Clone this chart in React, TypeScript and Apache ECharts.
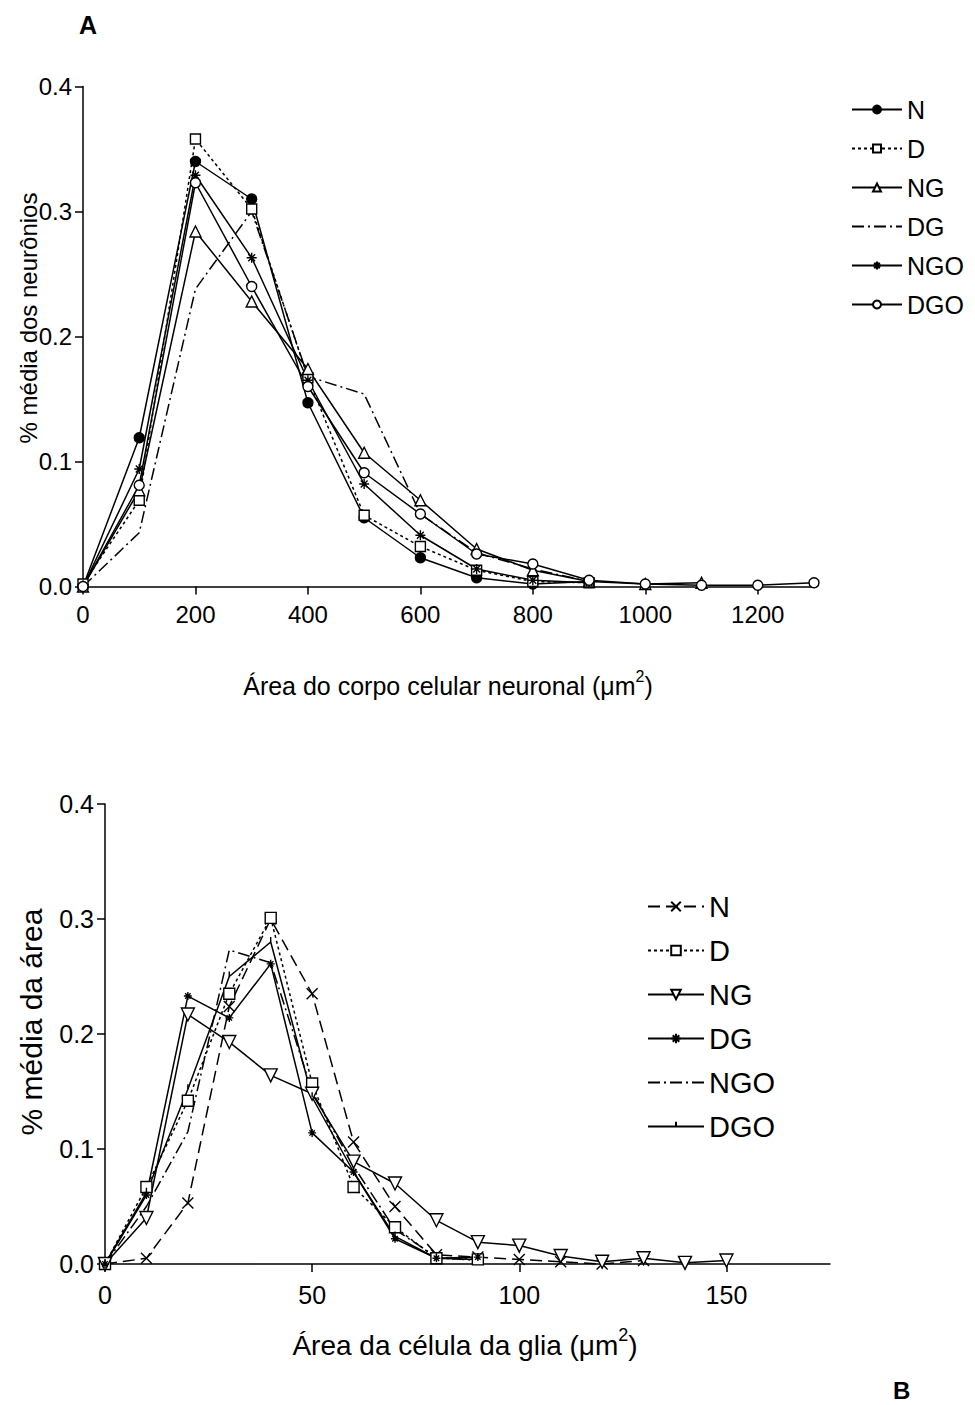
import React, { useEffect, useRef } from 'react';
import * as echarts from 'echarts';

const FONT = '"Liberation Sans", Arial, Helvetica, sans-serif';

// ---------- Panel A data ----------
const X_TOP = [0, 100, 200, 300, 400, 500, 600, 700, 800, 900, 1000, 1100, 1200, 1300];
const TOP_N = [0, 0.119, 0.34, 0.31, 0.147, 0.055, 0.023, 0.007, 0.002, 0.004];
const TOP_D = [0.002, 0.069, 0.358, 0.302, 0.167, 0.057, 0.032, 0.013, 0.004, 0.003];
const TOP_NG = [0, 0.077, 0.284, 0.228, 0.174, 0.107, 0.069, 0.03, 0.013, 0.004, 0.002, 0.003];
const TOP_DG = [0, 0.043, 0.238, 0.3, 0.168, 0.154, 0.058, 0.027, 0.014, 0.004];
const TOP_NGO = [0, 0.094, 0.329, 0.263, 0.165, 0.082, 0.041, 0.014, 0.005, 0.003];
const TOP_DGO = [0, 0.081, 0.323, 0.24, 0.16, 0.091, 0.058, 0.026, 0.018, 0.005, 0.002, 0.001, 0.001, 0.003];
const TOP_X_TICKS = [0, 200, 400, 600, 800, 1000, 1200];

// ---------- Panel B data ----------
const X_BOT = [0, 10, 20, 30, 40, 50, 60, 70, 80, 90, 100, 110, 120, 130, 140, 150];
const BOT_N = [0, 0.005, 0.053, 0.224, 0.3, 0.235, 0.106, 0.05, 0.008, 0.006, 0.004, 0.002, 0, 0.003];
const BOT_D = [0, 0.067, 0.142, 0.235, 0.301, 0.157, 0.067, 0.032, 0.005, 0.004];
const BOT_NG = [0, 0.04, 0.217, 0.193, 0.164, 0.148, 0.089, 0.07, 0.038, 0.019, 0.016, 0.007, 0.002, 0.005, 0.001, 0.003];
const BOT_DG = [0, 0.06, 0.233, 0.214, 0.261, 0.114, 0.08, 0.022, 0.005, 0.006];
const BOT_NGO = [0, 0.05, 0.115, 0.273, 0.262, 0.15, 0.085, 0.03, 0.006, 0.003];
const BOT_DGO = [0, 0.062, 0.152, 0.25, 0.28, 0.145, 0.08, 0.024, 0.005, 0.004];
const BOT_X_TICKS = [0, 50, 100, 150];

const LEGEND_NAMES = ['N', 'D', 'NG', 'DG', 'NGO', 'DGO'];

// ---------- symbols ----------
const ASTERISK = 'path://M5,0L5,10M0,5L10,5M1.6,1.6L8.4,8.4M8.4,1.6L1.6,8.4';
const CROSS = 'path://M0,0L10,10M10,0L0,10';
const DOWN_TRI = 'path://M0,0L10,0L5,8.66Z';
const TICK = 'path://M0,10L0.01,10M5,0L5,5M10,10L10.01,10';

type SOpt = {
  symbol: string;
  size: number;
  fill: string;
  dash?: number[] | 'solid';
  noSymbol?: boolean;
};

function mkSeries(name: string, xs: number[], vals: number[], o: SOpt) {
  return {
    type: 'line',
    name,
    data: vals.map((v, i) => [xs[i], v]),
    symbol: o.symbol,
    symbolSize: o.size,
    showSymbol: !o.noSymbol,
    clip: false,
    lineStyle: { color: '#000', width: 1.5, type: o.dash || 'solid' },
    itemStyle: o.noSymbol
      ? { color: 'rgba(0,0,0,0)', borderColor: 'rgba(0,0,0,0)', borderWidth: 0 }
      : { color: o.fill, borderColor: '#000', borderWidth: 1.4 },
    emphasis: { disabled: true },
  };
}

function axisCommon() {
  return {
    axisLine: { show: true, onZero: false, lineStyle: { color: '#000', width: 1.5 } },
    splitLine: { show: false },
  };
}

function titleText(x: number, y: number, main: string, fontSize: number, supSize: number) {
  return {
    type: 'text',
    x,
    y,
    style: {
      text: `{a|${main}}{s|2}{a|)}`,
      rich: {
        a: { fontSize, fontFamily: FONT, fill: '#000', lineHeight: Math.round(fontSize * 1.4) },
        s: { fontSize: supSize, fontFamily: FONT, fill: '#000', verticalAlign: 'top', lineHeight: supSize + 2 },
      },
      align: 'center',
      verticalAlign: 'middle',
    },
  };
}

const plainNum = (v: number) => String(v);

const topOption = {
  animation: false,
  backgroundColor: '#fff',
  grid: { left: 83, top: 86.5, width: 731, height: 500, containLabel: false },
  xAxis: {
    type: 'value',
    min: 0,
    max: 1300,
    ...axisCommon(),
    axisTick: { show: true, length: 8, lineStyle: { color: '#000', width: 1.5 }, customValues: TOP_X_TICKS },
    axisLabel: { color: '#000', fontSize: 24, fontFamily: FONT, margin: 16, customValues: TOP_X_TICKS, formatter: plainNum },
  },
  yAxis: {
    type: 'value',
    min: 0,
    max: 0.4,
    interval: 0.1,
    ...axisCommon(),
    axisTick: { show: true, length: 8, lineStyle: { color: '#000', width: 1.5 } },
    axisLabel: { color: '#000', fontSize: 24, fontFamily: FONT, margin: 11, formatter: (v: number) => v.toFixed(1) },
  },
  legend: {
    orient: 'vertical',
    left: 851,
    top: 97,
    padding: 0,
    itemWidth: 50,
    itemHeight: 10,
    itemGap: 14,
    data: LEGEND_NAMES,
    selectedMode: false,
    textStyle: { fontSize: 25, fontFamily: FONT, color: '#000', lineHeight: 25 },
  },
  graphic: [
    { type: 'text', x: 79, y: 12, style: { text: 'A', fontSize: 25, fontWeight: 'bold', fontFamily: FONT, fill: '#000' } },
    {
      type: 'text',
      x: 28,
      y: 318,
      rotation: Math.PI / 2,
      style: { text: '% média dos neurônios', fontSize: 24, fontFamily: FONT, fill: '#000', align: 'center', verticalAlign: 'middle' },
    },
    titleText(448, 686, 'Área do corpo celular neuronal (μm', 25, 16),
  ],
  series: [
    mkSeries('N', X_TOP, TOP_N, { symbol: 'circle', size: 10, fill: '#000' }),
    mkSeries('D', X_TOP, TOP_D, { symbol: 'rect', size: 10, fill: '#fff', dash: [3, 3] }),
    mkSeries('NG', X_TOP, TOP_NG, { symbol: 'triangle', size: 11, fill: '#fff' }),
    mkSeries('DG', X_TOP, TOP_DG, { symbol: 'circle', size: 1, fill: '#000', dash: [12, 4, 2, 4], noSymbol: true }),
    mkSeries('NGO', X_TOP, TOP_NGO, { symbol: ASTERISK, size: 10, fill: '#000' }),
    mkSeries('DGO', X_TOP, TOP_DGO, { symbol: 'circle', size: 10, fill: '#fff' }),
  ],
};

const botOption = {
  animation: false,
  backgroundColor: '#fff',
  grid: { left: 105, top: 104, width: 725, height: 460, containLabel: false },
  xAxis: {
    type: 'value',
    min: 0,
    max: 175,
    ...axisCommon(),
    axisTick: { show: true, length: 8, lineStyle: { color: '#000', width: 1.5 }, customValues: BOT_X_TICKS },
    axisLabel: { color: '#000', fontSize: 25, fontFamily: FONT, margin: 18, customValues: BOT_X_TICKS, formatter: plainNum },
  },
  yAxis: {
    type: 'value',
    min: 0,
    max: 0.4,
    interval: 0.1,
    ...axisCommon(),
    axisTick: { show: true, length: 8, lineStyle: { color: '#000', width: 1.5 } },
    axisLabel: { color: '#000', fontSize: 25, fontFamily: FONT, margin: 11, formatter: (v: number) => v.toFixed(1) },
  },
  legend: {
    orient: 'vertical',
    left: 647,
    top: 192,
    padding: 0,
    itemWidth: 56,
    itemHeight: 12,
    itemGap: 15,
    data: LEGEND_NAMES,
    selectedMode: false,
    textStyle: { fontSize: 29, fontFamily: FONT, color: '#000', lineHeight: 29 },
  },
  graphic: [
    {
      type: 'text',
      x: 893,
      y: 690,
      style: { text: 'B', fontSize: 24, fontWeight: 'bold', fontFamily: FONT, fill: '#000', verticalAlign: 'middle' },
    },
    {
      type: 'text',
      x: 31,
      y: 322,
      rotation: Math.PI / 2,
      style: { text: '% média da área', fontSize: 30, fontFamily: FONT, fill: '#000', align: 'center', verticalAlign: 'middle' },
    },
    titleText(465, 645, 'Área da célula da glia (μm', 28, 18),
  ],
  series: [
    mkSeries('N', X_BOT, BOT_N, { symbol: CROSS, size: 11, fill: '#000', dash: [12, 6] }),
    mkSeries('D', X_BOT, BOT_D, { symbol: 'rect', size: 11, fill: '#fff', dash: [3, 3] }),
    mkSeries('NG', X_BOT, BOT_NG, { symbol: DOWN_TRI, size: 13, fill: '#fff' }),
    mkSeries('DG', X_BOT, BOT_DG, { symbol: ASTERISK, size: 8, fill: '#000' }),
    mkSeries('NGO', X_BOT, BOT_NGO, { symbol: 'circle', size: 1, fill: '#000', dash: [12, 4, 2, 4], noSymbol: true }),
    mkSeries('DGO', X_BOT, BOT_DGO, { symbol: TICK, size: 10, fill: '#000' }),
  ],
};

function Chart({ option, top, height }: { option: any; top: number; height: number }) {
  const ref = useRef<HTMLDivElement>(null);
  useEffect(() => {
    if (!ref.current) return;
    const chart = echarts.init(ref.current, undefined, { renderer: 'svg' });
    chart.setOption(option);
    return () => chart.dispose();
  }, [option]);
  return <div ref={ref} style={{ position: 'absolute', left: 0, top, width: 975, height }} />;
}

export default function App() {
  return (
    <div style={{ position: 'absolute', left: 0, top: 0, width: 975, height: 1405, background: '#fff' }}>
      <Chart option={topOption} top={0} height={700} />
      <Chart option={botOption} top={700} height={705} />
    </div>
  );
}
